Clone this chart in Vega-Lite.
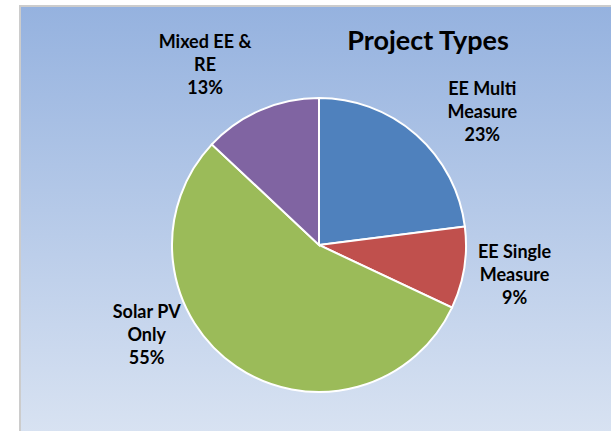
{
  "$schema": "https://vega.github.io/schema/vega-lite/v6.json",
  "width": 598,
  "height": 478,
  "autosize": {"type": "none"},
  "padding": {"left": 20, "top": 6, "right": -7, "bottom": -53},
  "background": "white",
  "view": {
    "fill": {"gradient": "linear", "x1": 0, "y1": 0, "x2": 0, "y2": 1,
      "stops": [{"offset": 0, "color": "#95B2DF"}, {"offset": 1, "color": "#E0E8F4"}]},
    "stroke": "#CCCCCC",
    "strokeWidth": 2
  },
  "title": {
    "text": "Project Types",
    "font": "Lato",
    "fontSize": 27,
    "fontWeight": "bold",
    "color": "black",
    "anchor": "middle",
    "offset": 0,
    "baseline": "alphabetic",
    "dx": 109,
    "dy": 71
  },
  "data": {
    "values": [
      {"type": "EE Multi Measure", "pct": 23, "ord": 1, "label": "EE Multi\nMeasure\n23%"},
      {"type": "EE Single Measure", "pct": 9, "ord": 2, "label": "EE Single\nMeasure\n9%"},
      {"type": "Solar PV Only", "pct": 55, "ord": 3, "label": "Solar PV\nOnly\n55%"},
      {"type": "Mixed EE & RE", "pct": 13, "ord": 4, "label": "Mixed EE &\nRE\n13%"}
    ]
  },
  "encoding": {
    "theta": {"field": "pct", "type": "quantitative", "stack": true},
    "order": {"field": "ord", "type": "quantitative", "sort": "ascending"}
  },
  "layer": [
    {
      "mark": {"type": "arc", "outerRadius": 147, "stroke": "white", "strokeWidth": 2},
      "encoding": {
        "color": {
          "field": "type", "type": "nominal", "legend": null,
          "scale": {
            "domain": ["EE Multi Measure", "EE Single Measure", "Solar PV Only", "Mixed EE & RE"],
            "range": ["#4F81BD", "#C0504D", "#9BBB59", "#8064A2"]
          }
        }
      }
    },
    {
      "mark": {"type": "text", "radius": 210, "thetaOffset": 0.168, "dy": -23, "lineBreak": "\n", "font": "Lato", "fontWeight": "bold", "fontSize": 18, "lineHeight": 23, "align": "center", "baseline": "middle", "color": "black"},
      "encoding": {"text": {"condition": {"test": "datum.type === 'EE Multi Measure'", "field": "label", "type": "nominal"}, "value": ""}}
    },
    {
      "mark": {"type": "text", "radius": 198, "thetaOffset": 0, "dy": -23, "lineBreak": "\n", "font": "Lato", "fontWeight": "bold", "fontSize": 18, "lineHeight": 23, "align": "center", "baseline": "middle", "color": "black"},
      "encoding": {"text": {"condition": {"test": "datum.type === 'EE Single Measure'", "field": "label", "type": "nominal"}, "value": ""}}
    },
    {
      "mark": {"type": "text", "radius": 195, "thetaOffset": 0.487, "dy": -23, "lineBreak": "\n", "font": "Lato", "fontWeight": "bold", "fontSize": 18, "lineHeight": 23, "align": "center", "baseline": "middle", "color": "black"},
      "encoding": {"text": {"condition": {"test": "datum.type === 'Solar PV Only'", "field": "label", "type": "nominal"}, "value": ""}}
    },
    {
      "mark": {"type": "text", "radius": 212, "thetaOffset": -0.159, "dy": -23, "lineBreak": "\n", "font": "Lato", "fontWeight": "bold", "fontSize": 18, "lineHeight": 23, "align": "center", "baseline": "middle", "color": "black"},
      "encoding": {"text": {"condition": {"test": "datum.type === 'Mixed EE & RE'", "field": "label", "type": "nominal"}, "value": ""}}
    }
  ]
}
